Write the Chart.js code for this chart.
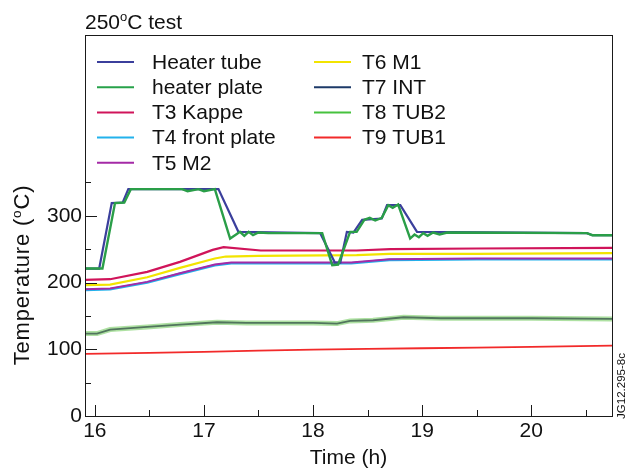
<!DOCTYPE html>
<html>
<head>
<meta charset="utf-8">
<script src="https://cdn.jsdelivr.net/npm/chart.js@4.4.1/dist/chart.umd.min.js"></script>
<style>
  html, body { margin: 0; padding: 0; background: #fff; }
  #wrap { position: relative; width: 635px; height: 469px; }
</style>
</head>
<body>
<div id="wrap"><canvas id="chart"></canvas></div>
<script>
const seriesNames = ['Heater tube', 'heater plate', 'T3 Kappe', 'T4 front plate', 'T5 M2', 'T6 M1', 'T7 INT', 'T8 TUB2', 'T9 TUB1'];

const xTicks = [16, 17, 18, 19, 20];
const xMinorTicks = [16.5, 17.5, 18.5, 19.5, 20.5];
const yTicks = [0, 100, 200, 300];
const yMinorTicks = [50, 150, 250, 350];

// heater tube - the stepped curve
const tubeTime = [15.91, 16.04, 16.155, 16.256, 16.307, 17.133, 17.316, 18.066, 18.2, 18.25, 18.31, 18.37, 18.45, 18.63, 18.678, 18.8, 18.953, 20.51, 20.56, 20.74];
const tubeTemp = [221, 221, 319, 320, 340, 340, 276, 274, 230, 230, 276, 275, 294, 296, 316, 316, 276, 274, 271, 271];

// heater plate - follows the tube, a bit behind and noisier
const plateTime = [15.91, 16.07, 16.185, 16.27, 16.33, 16.8, 16.85, 16.95, 17.0, 17.1, 17.24, 17.295, 17.33, 17.37, 17.41, 17.45, 17.5, 17.59, 18.084, 18.176, 18.23, 18.34, 18.4, 18.47, 18.52, 18.57, 18.63, 18.69, 18.73, 18.78, 18.89, 18.93, 18.97, 19.01, 19.05, 19.1, 19.16, 19.23, 20.51, 20.56, 20.74];
const plateTemp = [221, 221, 319, 320, 340, 340, 337, 340, 337, 340, 266, 272, 276, 270, 276, 271, 275, 274, 274, 226, 227, 276, 276, 294, 297, 293, 297, 316, 312, 317, 266, 272, 268, 274, 270, 275, 272, 275, 274, 271, 271];

const kappeTime = [15.91, 16.14, 16.48, 16.78, 17.08, 17.18, 17.52, 18.4, 18.71, 19.5, 20.74];
const kappeTemp = [204, 205, 216, 231, 249, 253, 248, 248, 250, 251, 252];

const frontTime = [15.91, 16.14, 16.48, 16.78, 17.1, 17.25, 17.5, 18.35, 18.7, 19.5, 20.74];
const frontTemp = [189, 190, 200, 213, 226, 229, 229, 229, 234, 235, 235];

const m2Time = [15.91, 16.14, 16.48, 16.78, 17.1, 17.25, 17.5, 18.35, 18.7, 19.5, 20.74];
const m2Temp = [190, 191, 201, 214, 227, 230, 230, 230, 235, 236, 236];

const m1Time = [15.91, 16.14, 16.48, 16.78, 17.1, 17.2, 17.5, 18.4, 18.7, 19.5, 20.74];
const m1Temp = [196, 197, 208, 222, 236, 239, 240, 241, 243, 243, 244];

const intTime = [15.91, 16.02, 16.14, 16.48, 16.78, 17.12, 17.39, 18.0, 18.22, 18.34, 18.55, 18.83, 19.17, 20.0, 20.74];
const intTemp = [123.5, 123.5, 129.5, 133.5, 137, 140.5, 139.5, 139.5, 138.5, 142.5, 143.5, 148, 146.5, 146.5, 145.5];

const tub2Time = [15.91, 16.02, 16.14, 16.48, 16.78, 17.12, 17.39, 18.0, 18.22, 18.34, 18.55, 18.83, 19.17, 20.0, 20.74];
const tub2Temp = [123.5, 123.5, 129.5, 133.5, 137, 140.5, 139.5, 139.5, 138.5, 142.5, 143.5, 148, 146.5, 146.5, 145.5];

const tub1Time = [15.91, 16.5, 17.0, 17.5, 18.0, 18.5, 19.0, 19.5, 20.0, 20.74];
const tub1Temp = [93, 94.5, 96, 98, 99.5, 100.5, 101.5, 102.5, 103.5, 105.5];

const FONT = '"Liberation Sans", Arial, Helvetica, sans-serif';
const colors = ['#3b3f9c', '#27a24a', '#d0145a', '#22b2ec', '#a42aa6', '#f2e400', '#1d3a68', '#46c23e', '#f22a2a'];
// colours used for the plotted lines where they differ from the legend swatch
const lineColors = ['#3b3f9c', '#2a9e48', '#d0145a', '#22b2ec', '#a42aa6', '#f2e400', 'rgba(50,80,70,0.75)', 'rgba(120,205,100,0.6)', '#f22a2a'];

const toPoints = (ts, vs) => ts.map((t, i) => ({ x: t, y: vs[i] }));

const seriesData = [
  toPoints(tubeTime, tubeTemp),
  toPoints(plateTime, plateTemp),
  toPoints(kappeTime, kappeTemp),
  toPoints(frontTime, frontTemp),
  toPoints(m2Time, m2Temp),
  toPoints(m1Time, m1Temp),
  toPoints(intTime, intTemp),
  toPoints(tub2Time, tub2Temp),
  toPoints(tub1Time, tub1Temp),
];
// draw order: lower = on top
const drawOrder = [1, 0, 2, 5, 4, 3, 6, 7, 8];
const widths = [2.2, 2.4, 2.2, 2.6, 2, 2.2, 1.8, 5, 1.8];

// text with a raised small "o" for the degree mark
const measureParts = (ctx, parts, size) =>
  parts.reduce((w, [txt, sup]) => {
    ctx.font = `${sup ? size * 0.62 : size}px ${FONT}`;
    return w + ctx.measureText(txt).width;
  }, 0);

const renderParts = (ctx, parts, x, y, size) => {
  let cx = x;
  parts.forEach(([txt, sup]) => {
    ctx.font = `${sup ? size * 0.62 : size}px ${FONT}`;
    ctx.fillText(txt, cx, sup ? y - size * 0.38 : y);
    cx += ctx.measureText(txt).width;
  });
};

const decor = {
  id: 'decor',
  afterDraw(chart) {
    const { ctx, chartArea: a, scales } = chart;
    const xs = scales.x, ys = scales.y;
    ctx.save();

    // frame
    ctx.strokeStyle = '#1a1a1a';
    ctx.lineWidth = 1;
    ctx.strokeRect(a.left + 0.5, a.top + 0.5, a.right - a.left, a.bottom - a.top);

    // inward tick marks
    ctx.beginPath();
    xTicks.forEach((v) => {
      const px = Math.round(xs.getPixelForValue(v)) + 0.5;
      ctx.moveTo(px, a.bottom); ctx.lineTo(px, a.bottom - 11);
    });
    xMinorTicks.forEach((v) => {
      const px = Math.round(xs.getPixelForValue(v)) + 0.5;
      ctx.moveTo(px, a.bottom); ctx.lineTo(px, a.bottom - 6);
    });
    yTicks.forEach((v) => {
      const py = Math.round(ys.getPixelForValue(v)) + 0.5;
      ctx.moveTo(a.left, py); ctx.lineTo(a.left + 12, py);
    });
    yMinorTicks.forEach((v) => {
      const py = Math.round(ys.getPixelForValue(v)) + 0.5;
      ctx.moveTo(a.left, py); ctx.lineTo(a.left + 6, py);
    });
    ctx.stroke();

    ctx.fillStyle = '#111';
    ctx.textBaseline = 'alphabetic';
    ctx.textAlign = 'left';

    // title
    renderParts(ctx, [['250', false], ['o', true], ['C test', false]], a.left, 29, 21);

    // x axis title
    ctx.font = `21px ${FONT}`;
    ctx.textAlign = 'center';
    ctx.fillText('Time (h)', (a.left + a.right) / 2, 464);

    // y axis title
    const yParts = [['Temperature (', false], ['o', true], ['C)', false]];
    ctx.textAlign = 'left';
    ctx.letterSpacing = '0.8px';
    const w = measureParts(ctx, yParts, 22);
    ctx.save();
    ctx.translate(29, 275);
    ctx.rotate(-Math.PI / 2);
    renderParts(ctx, yParts, -w / 2, 0, 22);
    ctx.restore();
    ctx.letterSpacing = '0px';

    // figure code at the right edge
    ctx.save();
    ctx.translate(622, 386);
    ctx.rotate(-Math.PI / 2);
    ctx.font = `11.5px ${FONT}`;
    ctx.textAlign = 'center';
    ctx.textBaseline = 'middle';
    ctx.fillText('JG12.295-8c', 0, 0);
    ctx.restore();

    // legend, two columns
    ctx.font = `21px ${FONT}`;
    ctx.textAlign = 'left';
    ctx.textBaseline = 'middle';
    seriesNames.forEach((name, i) => {
      const col = i < 5 ? 0 : 1;
      const row = i < 5 ? i : i - 5;
      const lx = a.left + (col === 0 ? 12 : 229);
      const y = a.top + 27 + row * 25.2;
      ctx.strokeStyle = colors[i];
      ctx.lineWidth = 2;
      ctx.beginPath();
      ctx.moveTo(lx, y); ctx.lineTo(lx + 37, y);
      ctx.stroke();
      ctx.fillStyle = '#111';
      ctx.fillText(name, lx + (col === 0 ? 55 : 48), y + 1);
    });

    ctx.restore();
  },
};

new Chart(document.getElementById('chart'), {
  type: 'line',
  data: {
    datasets: seriesNames.map((name, i) => ({
      label: name,
      data: seriesData[i],
      borderColor: lineColors[i],
      borderWidth: widths[i],
      order: drawOrder[i],
      pointRadius: 0,
      tension: 0,
      fill: false,
    })),
  },
  options: {
    responsive: true,
    maintainAspectRatio: false,
    animation: false,
    layout: { padding: { top: 35, right: 23, left: 0, bottom: 0 } },
    plugins: { legend: { display: false }, tooltip: { enabled: false } },
    scales: {
      x: {
        type: 'linear',
        min: 15.91,
        max: 20.74,
        afterBuildTicks: (s) => { s.ticks = xTicks.map((v) => ({ value: v })); },
        afterFit: (s) => { s.height = 53; },
        ticks: { font: { family: FONT, size: 21 }, color: '#111', padding: 3, maxRotation: 0, autoSkip: false },
        grid: { display: false, drawTicks: false },
        border: { display: false },
      },
      y: {
        min: 0,
        max: 571,
        afterBuildTicks: (s) => { s.ticks = yTicks.map((v) => ({ value: v })); },
        afterFit: (s) => { s.width = 85; },
        ticks: { font: { family: FONT, size: 21 }, color: '#111', padding: 3 },
        grid: { display: false, drawTicks: false },
        border: { display: false },
      },
    },
  },
  plugins: [decor],
});
</script>
</body>
</html>
